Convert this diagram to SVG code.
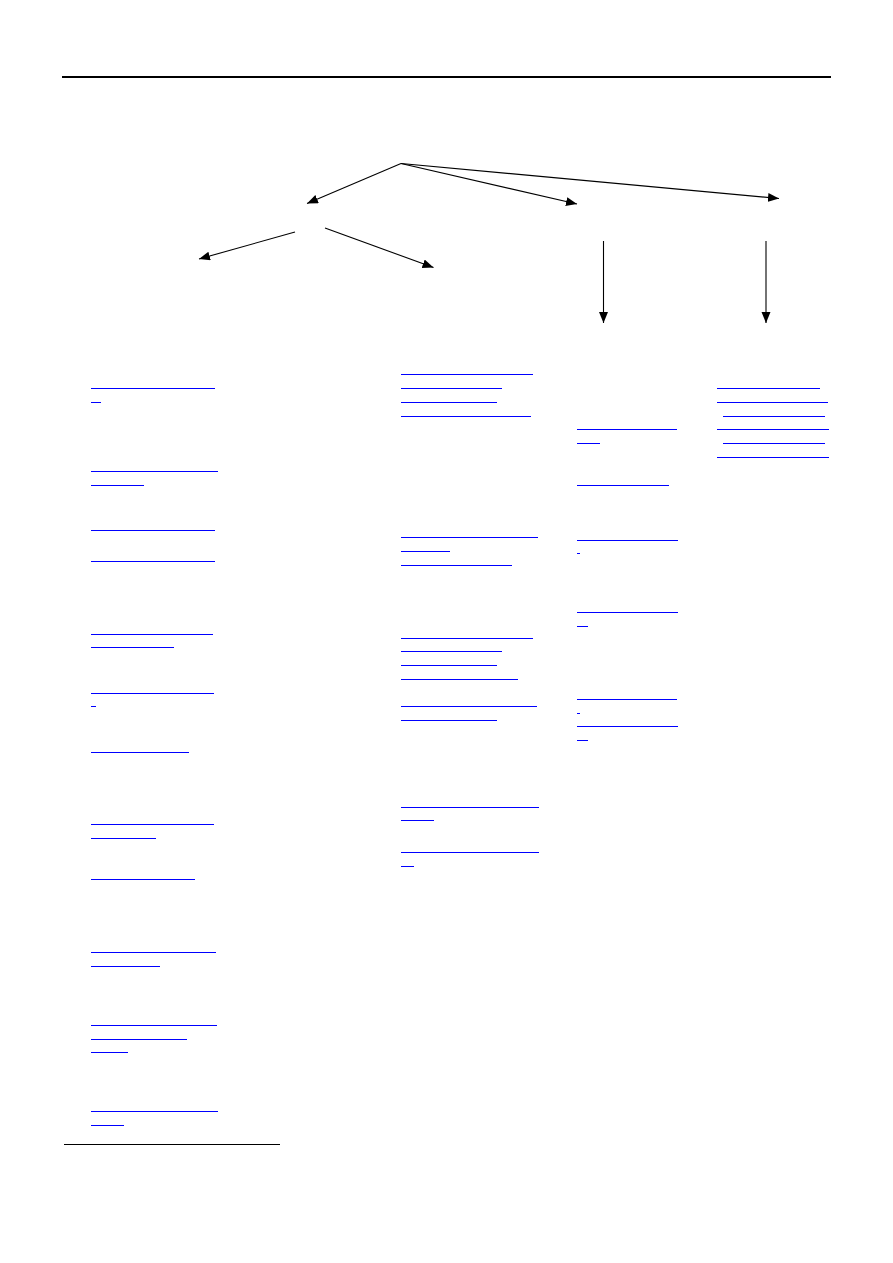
<svg xmlns="http://www.w3.org/2000/svg" width="893" height="1263" viewBox="0 0 893 1263">
<style>
.u{stroke:#0000ff;stroke-width:1;fill:none;shape-rendering:crispEdges}
.c{stroke:#000;stroke-width:1.1;fill:none}
.r{stroke:#000;fill:none;shape-rendering:crispEdges}
</style>
<defs>
<marker id="ah" markerUnits="userSpaceOnUse" markerWidth="12" markerHeight="10" refX="11" refY="4.5" orient="auto">
<path d="M0,0 L11,4.5 L0,9 Z" fill="#000"/>
</marker>
</defs>
<rect width="893" height="1263" fill="#fff"/>
<g id="rules">
<line class="r" x1="62" y1="77" x2="831" y2="77" stroke-width="2"/>
<line class="r" x1="64" y1="1144.5" x2="280" y2="1144.5" stroke-width="1"/>
</g>
<g id="connectors">
<line class="c" x1="401" y1="163.5" x2="307" y2="203.5" marker-end="url(#ah)"/>
<line class="c" x1="401" y1="163.5" x2="577" y2="204" marker-end="url(#ah)"/>
<line class="c" x1="401" y1="163.5" x2="779" y2="198.5" marker-end="url(#ah)"/>
<line class="c" x1="295" y1="232" x2="199" y2="259" marker-end="url(#ah)"/>
<line class="c" x1="325" y1="228" x2="433.5" y2="267.5" marker-end="url(#ah)"/>
<line class="c" x1="603.5" y1="241" x2="603.5" y2="323" marker-end="url(#ah)"/>
<line class="c" x1="766" y1="241" x2="766" y2="323" marker-end="url(#ah)"/>
</g>
<g id="col1">
<g id="n1a"><line class="u" x1="91" y1="388.5" x2="215" y2="388.5"/><line class="u" x1="91" y1="402.5" x2="101" y2="402.5"/></g>
<g id="n1b"><line class="u" x1="91" y1="471.5" x2="218" y2="471.5"/><line class="u" x1="91" y1="485.5" x2="144" y2="485.5"/></g>
<g id="n1c"><line class="u" x1="91" y1="530.5" x2="215" y2="530.5"/></g>
<g id="n1d"><line class="u" x1="91" y1="561.5" x2="215" y2="561.5"/></g>
<g id="n1e"><line class="u" x1="91" y1="634.5" x2="213" y2="634.5"/><line class="u" x1="91" y1="647.5" x2="174" y2="647.5"/></g>
<g id="n1f"><line class="u" x1="91" y1="693.5" x2="214" y2="693.5"/><line class="u" x1="91" y1="706.5" x2="96" y2="706.5"/></g>
<g id="n1g"><line class="u" x1="91" y1="752.5" x2="189" y2="752.5"/></g>
<g id="n1h"><line class="u" x1="91" y1="824.5" x2="214" y2="824.5"/><line class="u" x1="91" y1="838.5" x2="156" y2="838.5"/></g>
<g id="n1i"><line class="u" x1="91" y1="879.5" x2="195" y2="879.5"/></g>
<g id="n1j"><line class="u" x1="91" y1="952.5" x2="216" y2="952.5"/><line class="u" x1="91" y1="966.5" x2="160" y2="966.5"/></g>
<g id="n1k"><line class="u" x1="91" y1="1025.5" x2="217" y2="1025.5"/><line class="u" x1="91" y1="1039.5" x2="187" y2="1039.5"/><line class="u" x1="91" y1="1052.5" x2="128" y2="1052.5"/></g>
<g id="n1l"><line class="u" x1="91" y1="1111.5" x2="218" y2="1111.5"/><line class="u" x1="91" y1="1125.5" x2="124" y2="1125.5"/></g>
</g>
<g id="col2">
<g id="n2a"><line class="u" x1="401" y1="374.5" x2="533" y2="374.5"/><line class="u" x1="401" y1="388.5" x2="502" y2="388.5"/><line class="u" x1="401" y1="402.5" x2="497" y2="402.5"/><line class="u" x1="401" y1="416.5" x2="531" y2="416.5"/></g>
<g id="n2b"><line class="u" x1="401" y1="537.5" x2="538" y2="537.5"/><line class="u" x1="401" y1="551.5" x2="450" y2="551.5"/><line class="u" x1="401" y1="565.5" x2="512" y2="565.5"/></g>
<g id="n2c"><line class="u" x1="401" y1="638.5" x2="533" y2="638.5"/><line class="u" x1="401" y1="651.5" x2="502" y2="651.5"/><line class="u" x1="401" y1="665.5" x2="497" y2="665.5"/><line class="u" x1="401" y1="679.5" x2="518" y2="679.5"/></g>
<g id="n2d"><line class="u" x1="401" y1="706.5" x2="537" y2="706.5"/><line class="u" x1="401" y1="720.5" x2="497" y2="720.5"/></g>
<g id="n2e"><line class="u" x1="401" y1="807.5" x2="539" y2="807.5"/><line class="u" x1="401" y1="820.5" x2="434" y2="820.5"/></g>
<g id="n2f"><line class="u" x1="401" y1="852.5" x2="539" y2="852.5"/><line class="u" x1="401" y1="866.5" x2="414" y2="866.5"/></g>
</g>
<g id="col3">
<g id="n3a"><line class="u" x1="577" y1="429.5" x2="677" y2="429.5"/><line class="u" x1="577" y1="443.5" x2="600" y2="443.5"/></g>
<g id="n3b"><line class="u" x1="577" y1="485.5" x2="669" y2="485.5"/></g>
<g id="n3c"><line class="u" x1="577" y1="540.5" x2="678" y2="540.5"/><line class="u" x1="577" y1="553.5" x2="580" y2="553.5"/></g>
<g id="n3d"><line class="u" x1="577" y1="612.5" x2="678" y2="612.5"/><line class="u" x1="577" y1="626.5" x2="588" y2="626.5"/></g>
<g id="n3e"><line class="u" x1="577" y1="699.5" x2="677" y2="699.5"/><line class="u" x1="577" y1="713.5" x2="580" y2="713.5"/></g>
<g id="n3f"><line class="u" x1="577" y1="726.5" x2="678" y2="726.5"/><line class="u" x1="577" y1="740.5" x2="588" y2="740.5"/></g>
</g>
<g id="col4">
<g id="n4a"><line class="u" x1="717" y1="388.5" x2="820" y2="388.5"/><line class="u" x1="717" y1="402.5" x2="828" y2="402.5"/><line class="u" x1="723" y1="416.5" x2="825" y2="416.5"/><line class="u" x1="717" y1="429.5" x2="829" y2="429.5"/><line class="u" x1="723" y1="443.5" x2="825" y2="443.5"/><line class="u" x1="717" y1="457.5" x2="829" y2="457.5"/></g>
</g>
</svg>
